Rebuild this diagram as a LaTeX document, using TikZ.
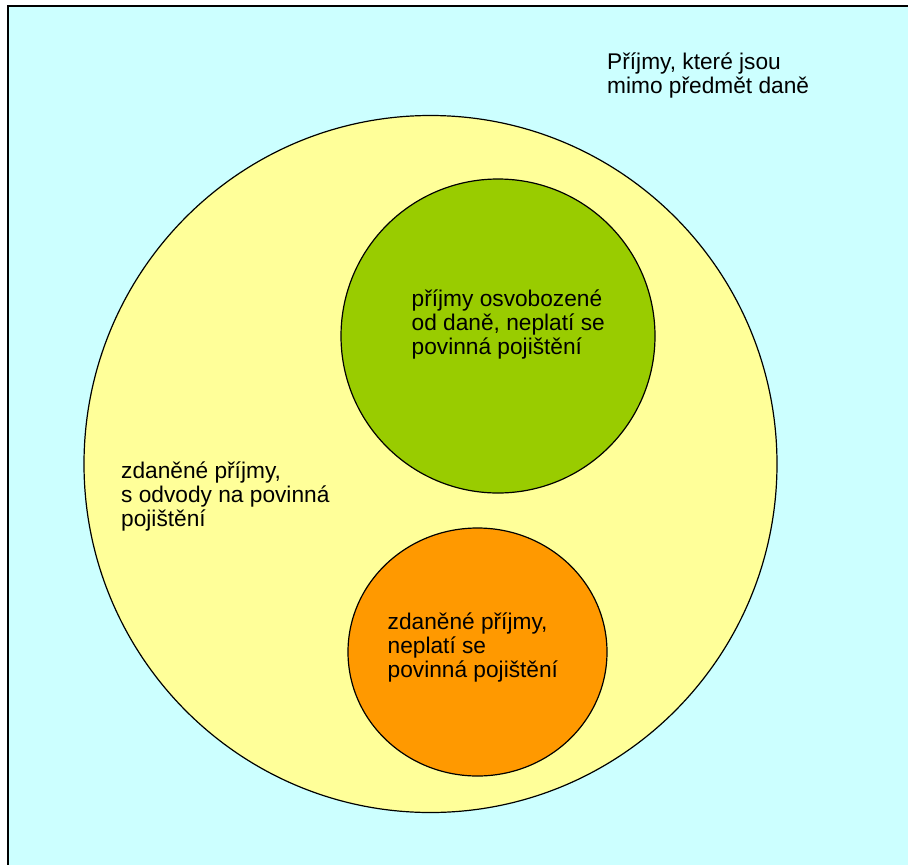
\documentclass[tikz,border=0pt]{standalone}
\usepackage{fontspec}
\setmainfont{Liberation Sans}
\usepackage{xcolor}

\definecolor{mimocyan}{RGB}{204,255,255}
\definecolor{danyellow}{RGB}{255,255,153}
\definecolor{osvgreen}{RGB}{153,204,0}
\definecolor{neplorange}{RGB}{255,153,0}

\begin{document}
\begin{tikzpicture}[
    x=1pt, y=-1pt,
    every node/.style={inner sep=0pt, align=left, anchor=base west, font=\fontsize{22.7}{24}\selectfont},
    zone/.style={draw=black, line width=1.2pt}
]
   \useasboundingbox (0,0) rectangle (908,865);
   \clip (0,0) rectangle (908,865);

   % Background
   \draw[fill=mimocyan, line width=1.6pt] (8,6) rectangle (940,900);

   % Circles with colors
   \draw[zone, fill=danyellow] (430.5,464) ellipse [x radius=346.5pt, y radius=348.5pt];
   \draw[zone, fill=osvgreen] (498,336) circle [radius=157pt];
   \draw[zone, fill=neplorange] (477.5,652) ellipse [x radius=129.5pt, y radius=124pt];

   % Labels (base = last line)
   \node (mimo) at (607,93) {Příjmy, které jsou\\mimo předmět daně};
   \node (zdanene) at (121,526) {zdaněné příjmy,\\s odvody na povinná\\pojištění};
   \node (osvobozene) at (411.5,354) {příjmy osvobozené\\od daně, neplatí se\\povinná pojištění};
   \node (neplati) at (387.5,677) {zdaněné příjmy,\\neplatí se\\povinná pojištění};
\end{tikzpicture}
\end{document}
